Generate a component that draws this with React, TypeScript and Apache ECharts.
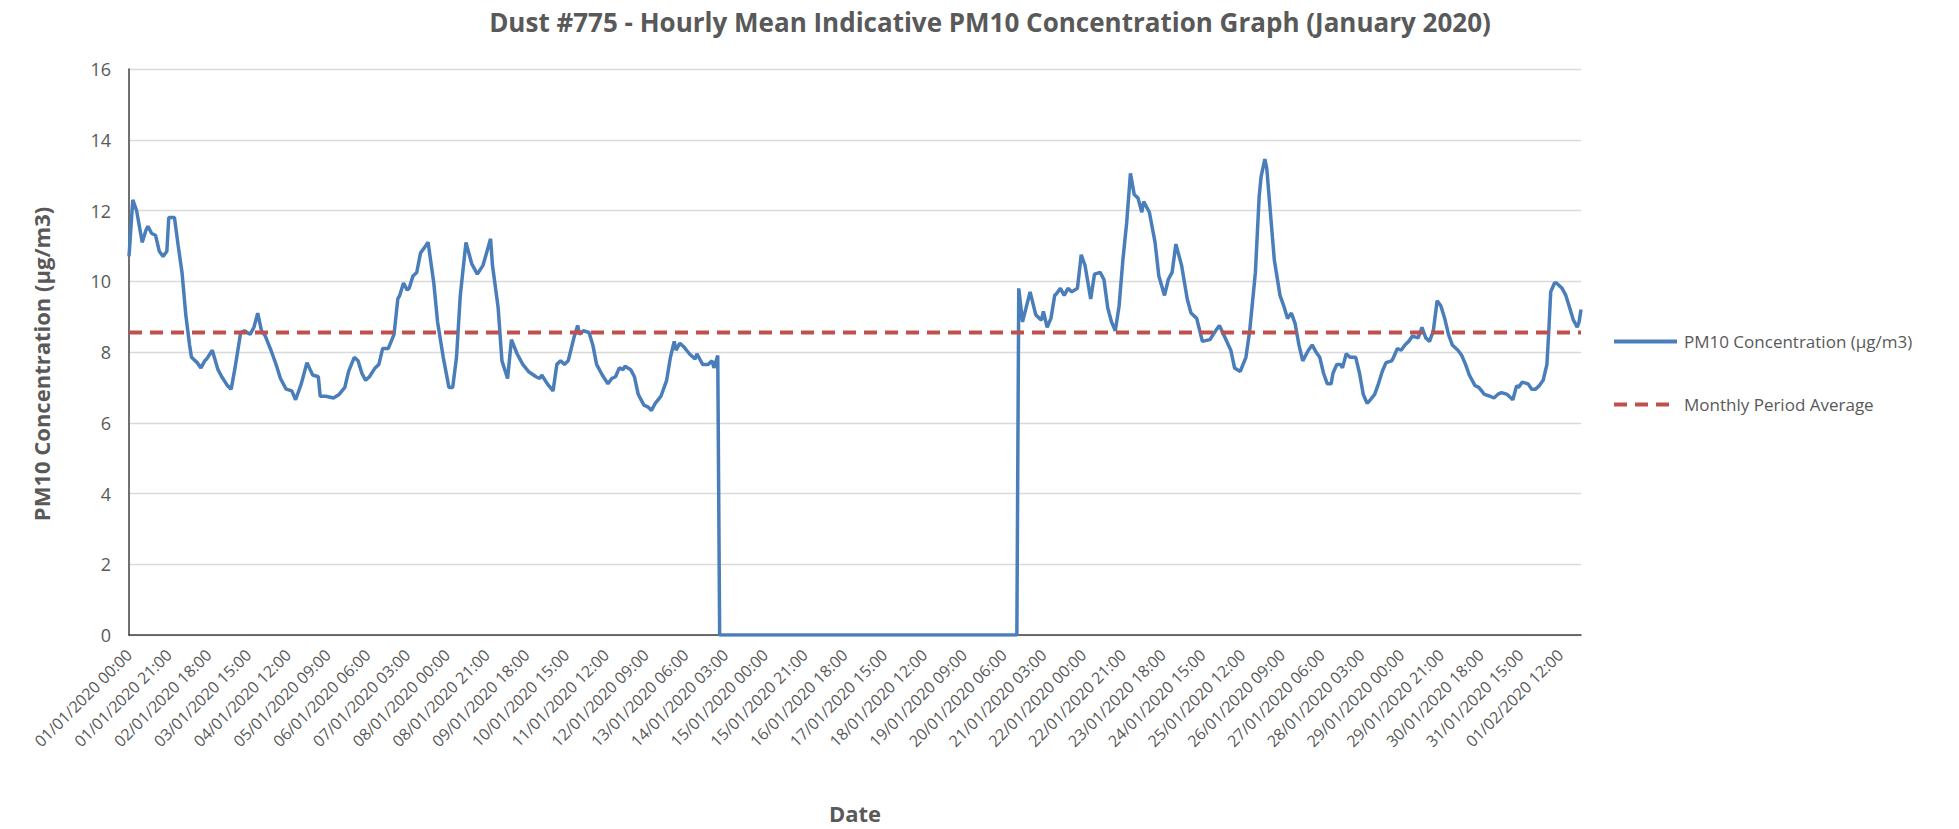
import React, { useEffect, useRef } from "react";
import * as echarts from "echarts";

const TITLE = "Dust #775 - Hourly Mean Indicative PM10 Concentration Graph (January 2020)";
const SERIES_NAME = "PM10 Concentration (μg/m3)";
const AVG_NAME = "Monthly Period Average";
const Y_NAME = "PM10 Concentration (μg/m3)";
const X_NAME = "Date";

// hours since 01/01/2020 00:00
const hours = [
  0, 2, 4, 7, 9, 10, 12, 14, 16, 18, 20, 21, 24, 26, 28, 30, 32, 33, 36, 38, 40, 41, 44, 47, 49, 52, 54, 56, 59, 61,
  64, 66, 68, 70, 72, 75, 78, 80, 83, 86, 88, 91, 94, 97, 100, 101, 104, 108, 111, 114, 116, 119, 121, 123, 125, 127,
  130, 132, 134, 137, 140, 142, 143, 145, 147, 148, 150, 152, 154, 156, 158, 161, 163, 166, 169, 171, 173, 175, 178,
  181, 184, 187, 191, 192, 195, 197, 200, 202, 205, 208, 211, 215, 217, 218, 221, 224, 226, 228, 230, 232, 235, 237,
  238, 240, 243, 245, 247, 250, 253, 255, 257, 259, 261, 262, 265, 267, 269, 272, 274, 276, 278, 281, 284, 286, 288,
  289, 291, 293, 296, 299, 300, 303, 306, 308, 309, 311, 312,
  469, 470, 472, 476, 479, 482, 483, 485, 487, 489, 490, 492, 494, 496, 498, 501, 503, 505, 508, 510, 513, 515, 517,
  519, 521, 523, 525, 527, 529, 531, 533, 535, 536, 539, 542, 544, 547, 549, 551, 553, 556, 559, 561, 564, 567, 571,
  574, 576, 579, 582, 584, 587, 590, 592, 595, 597, 598, 600, 601, 603, 605, 608, 610, 612, 614, 616, 618, 620, 621,
  623, 625, 627, 629, 631, 633, 635, 636, 638, 640, 641, 643, 645, 648, 650, 652, 654, 655, 658, 660, 662, 664, 667,
  668, 670, 672, 674, 676, 678, 681, 683, 685, 687, 689, 691, 693, 695, 697, 699, 702, 704, 706, 708, 711, 713, 716,
  719, 721, 723, 725, 728, 730, 731, 733, 734, 736, 739, 741, 743, 745, 747, 749, 750, 751, 753, 754, 757, 759, 761,
  763, 765, 766, 767,
];

// PM10 hourly mean (μg/m3)
const pm10 = [
  10.7, 12.3, 12.0, 11.1, 11.45, 11.55, 11.35, 11.3, 10.85, 10.7, 10.85, 11.8, 11.8, 11.0, 10.25, 9.05, 8.2, 7.85, 7.7,
  7.55, 7.75, 7.8, 8.05, 7.5, 7.3, 7.05, 6.95, 7.55, 8.55, 8.6, 8.5, 8.7, 9.1, 8.6, 8.45, 8.05, 7.6, 7.25, 6.95, 6.9,
  6.65, 7.1, 7.7, 7.35, 7.3, 6.75, 6.75, 6.7, 6.8, 7.0, 7.45, 7.85, 7.75, 7.4, 7.2, 7.3, 7.55, 7.65, 8.1, 8.1, 8.5, 9.5,
  9.6, 9.95, 9.75, 9.8, 10.15, 10.25, 10.8, 10.95, 11.1, 9.95, 8.85, 7.85, 7.0, 7.0, 7.85, 9.6, 11.1, 10.5, 10.2, 10.45,
  11.2, 10.45, 9.25, 7.75, 7.25, 8.35, 7.95, 7.65, 7.45, 7.3, 7.25, 7.35, 7.1, 6.9, 7.65, 7.75, 7.65, 7.75, 8.4, 8.75,
  8.5, 8.6, 8.55, 8.2, 7.65, 7.35, 7.1, 7.25, 7.3, 7.55, 7.5, 7.6, 7.5, 7.3, 6.8, 6.5, 6.45, 6.35, 6.55, 6.75, 7.2,
  7.85, 8.3, 8.05, 8.25, 8.15, 7.95, 7.8, 7.95, 7.65, 7.65, 7.75, 7.55, 7.9, 0,
  0, 9.8, 8.85, 9.7, 9.05, 8.9, 9.15, 8.7, 8.95, 9.6, 9.65, 9.8, 9.6, 9.8, 9.7, 9.8, 10.75, 10.45, 9.5, 10.2, 10.25,
  10.05, 9.25, 8.85, 8.6, 9.3, 10.6, 11.65, 13.05, 12.45, 12.35, 11.95, 12.25, 11.95, 11.1, 10.15, 9.6, 10.05, 10.25,
  11.05, 10.45, 9.5, 9.1, 8.95, 8.3, 8.35, 8.6, 8.75, 8.4, 8.05, 7.55, 7.45, 7.85, 8.6, 10.25, 12.4, 12.95, 13.45, 13.2,
  11.9, 10.6, 9.6, 9.3, 8.95, 9.1, 8.8, 8.2, 7.75, 7.85, 8.05, 8.2, 8.0, 7.85, 7.4, 7.1, 7.1, 7.4, 7.65, 7.65, 7.55,
  7.95, 7.85, 7.85, 7.4, 6.8, 6.55, 6.6, 6.8, 7.1, 7.45, 7.7, 7.75, 7.85, 8.1, 8.05, 8.2, 8.3, 8.45, 8.4, 8.7, 8.4, 8.3,
  8.6, 9.45, 9.3, 8.95, 8.5, 8.2, 8.05, 7.9, 7.65, 7.35, 7.05, 7.0, 6.8, 6.75, 6.7, 6.8, 6.85, 6.8, 6.7, 6.65, 7.05,
  7.0, 7.15, 7.1, 6.95, 6.95, 7.05, 7.2, 7.65, 8.6, 9.7, 9.95, 9.95, 9.8, 9.6, 9.25, 8.9, 8.7, 8.85, 9.2,
];

const monthlyAverage = 8.55;
const lastHour = 767;
const labelEveryHours = 21;
const yTicks = { min: 0, max: 16, interval: 2 };

const pad = (n: number) => (n < 10 ? "0" + n : String(n));
const hourLabel = (h: number) => {
  const dayIndex = Math.floor(h / 24);
  const hh = h % 24;
  let day = dayIndex + 1;
  let month = 1;
  if (day > 31) {
    day -= 31;
    month = 2;
  }
  return `${pad(day)}/${pad(month)}/2020 ${pad(hh)}:00`;
};

const FONT = "'Open Sans', 'Noto Sans', sans-serif";
const GREY = "#595959";
const BLUE = "#4a7ebb";
const RED = "#c0504d";

export default function App() {
  const ref = useRef<HTMLDivElement>(null);
  useEffect(() => {
    if (!ref.current) return;
    const chart = echarts.init(ref.current, undefined, { renderer: "svg" });
    const lineData = hours.map((h, i) => [h, pm10[i]]);
    const avgData = [
      [0, monthlyAverage],
      [lastHour, monthlyAverage],
    ];
    chart.setOption({
      animation: false,
      backgroundColor: "#ffffff",
      textStyle: { fontFamily: FONT },
      title: {
        text: TITLE,
        left: 985,
        textAlign: "center",
        top: 4,
        textStyle: { fontFamily: FONT, fontSize: 26, fontWeight: "bold", color: GREY },
      },
      grid: { left: 129, right: 378, top: 69, bottom: 182, containLabel: false },
      legend: {
        orient: "vertical",
        left: 1607,
        top: 328,
        padding: 5,
        itemWidth: 63,
        itemHeight: 20,
        itemGap: 46,
        itemStyle: { opacity: 0 },
        lineStyle: { width: 4 },
        textStyle: { fontFamily: FONT, fontSize: 17, color: GREY, padding: [0, 0, 0, 2] },
        data: [
          { name: SERIES_NAME, lineStyle: { width: 4, color: BLUE, type: "solid" } },
          { name: AVG_NAME, lineStyle: { width: 4, color: RED, type: [13, 8] } },
        ],
      },
      xAxis: {
        type: "value",
        min: 0,
        max: lastHour,
        interval: labelEveryHours,
        name: X_NAME,
        nameLocation: "middle",
        nameGap: 167,
        nameTextStyle: { fontFamily: FONT, fontSize: 22, fontWeight: "bold", color: GREY },
        axisLine: { show: true, onZero: false, lineStyle: { color: "#404040", width: 1.5 } },
        axisTick: { show: false },
        splitLine: { show: false },
        axisLabel: {
          rotate: 45,
          margin: 17,
          fontFamily: FONT,
          fontSize: 16,
          color: GREY,
          showMaxLabel: false,
          formatter: (v: number) => (v % labelEveryHours === 0 ? hourLabel(v) : ""),
        },
      },
      yAxis: {
        type: "value",
        min: yTicks.min,
        max: yTicks.max,
        interval: yTicks.interval,
        name: Y_NAME,
        nameLocation: "middle",
        nameGap: 77,
        nameRotate: 90,
        nameTextStyle: {
          fontFamily: FONT,
          fontSize: 22,
          fontWeight: "bold",
          color: GREY,
          padding: [0, 24, 0, 0],
        },
        axisLine: { show: true, lineStyle: { color: "#404040", width: 1.5 } },
        axisTick: { show: false },
        splitLine: { show: true, lineStyle: { color: "#d9d9d9", width: 1.3 } },
        axisLabel: { margin: 18, fontFamily: FONT, fontSize: 18, color: GREY },
      },
      series: [
        {
          name: SERIES_NAME,
          type: "line",
          data: lineData,
          showSymbol: false,
          symbol: "none",
          lineStyle: { color: BLUE, width: 3.5 },
          itemStyle: { color: BLUE },
          z: 3,
        },
        {
          name: AVG_NAME,
          type: "line",
          data: avgData,
          showSymbol: false,
          symbol: "none",
          lineStyle: { color: RED, width: 4, type: [13, 8] },
          itemStyle: { color: RED },
          z: 4,
        },
      ],
    });
    return () => chart.dispose();
  }, []);
  return (
    <div
      ref={ref}
      style={{ position: "fixed", left: 0, top: 0, width: 1959, height: 829, background: "#fff" }}
    />
  );
}
